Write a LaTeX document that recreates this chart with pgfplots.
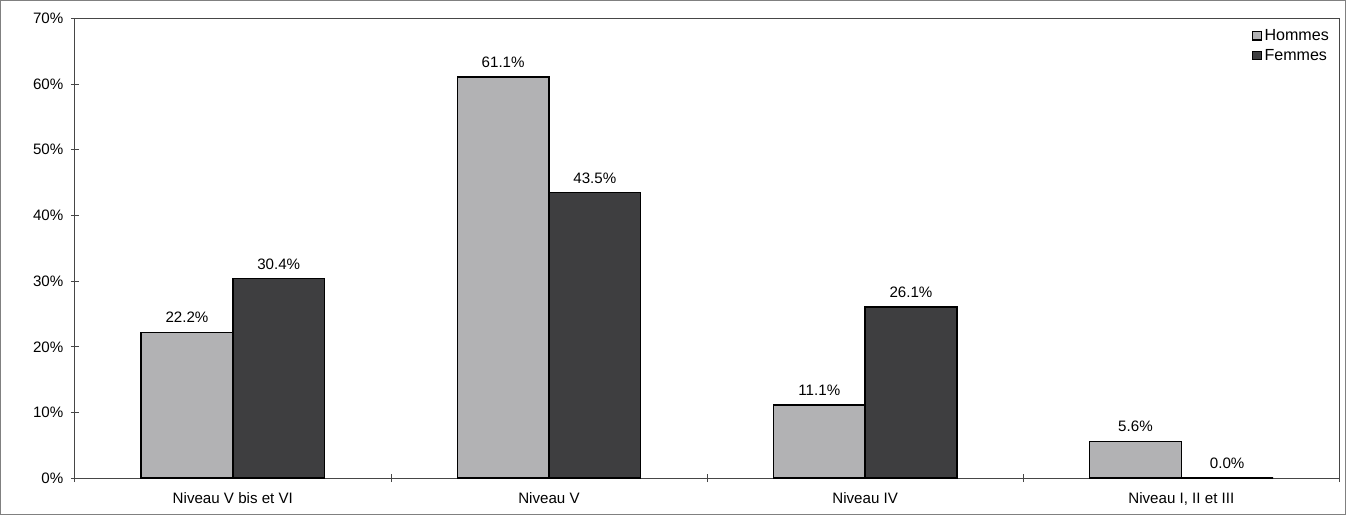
\documentclass[border=0pt]{standalone}
\usepackage{fontspec}
\setmainfont{Liberation Sans}
\usepackage{pgfplots}
\pgfplotsset{compat=1.18}

\definecolor{hommes}{RGB}{178,178,180}
\definecolor{femmes}{RGB}{62,62,64}
\definecolor{axisgray}{RGB}{70,70,70}

\begin{document}
\begin{tikzpicture}
\begin{axis}[
  scale only axis,
  width=945pt, height=343.5pt,
  ybar=0pt, bar width=0.29,
  xmin=-0.5, xmax=3.5,
  ymin=0, ymax=70,
  xtick={0,1,2,3},
  xticklabels={Niveau V bis et VI, Niveau V, Niveau IV, {Niveau I, II et III}},
  minor xtick={-0.5,0.5,1.5,2.5,3.5},
  major x tick style={draw=none},
  ytick={0,10,...,70},
  yticklabel={\pgfmathprintnumber{\tick}\%},
  tick align=center,
  major tick length=6pt, minor tick length=6pt,
  tick style={axisgray, line width=0.6pt},
  axis line style={axisgray, line width=0.8pt},
  axis x line*=bottom, axis y line*=left,
  /pgf/number format/assume math mode=true,
  font=\fontsize{11.3}{13}\selectfont,
  yticklabel style={xshift=-2pt},
  xticklabel style={yshift=-4pt},
  nodes near coords={\pgfmathprintnumber[fixed, fixed zerofill, precision=1]{\pgfplotspointmeta}\%},
  every node near coord/.append style={font=\fontsize{11.3}{13}\selectfont, yshift=3pt},
  legend style={at={(0.995,0.985)}, anchor=north east, draw=none, fill=none,
    font=\fontsize{12}{14}\selectfont, row sep=1pt, inner sep=1pt},
  legend cell align=left,
  legend image code/.code={\draw[#1, draw=black, line width=0.9pt] (0cm,-0.1cm) rectangle (0.22cm,0.12cm);},
  clip=false,
]
\addplot[fill=hommes, draw=black, line width=1.2pt] coordinates {(0,22.2) (1,61.1) (2,11.1) (3,5.6)};
\addplot[fill=femmes, draw=black, line width=1.2pt] coordinates {(0,30.4) (1,43.5) (2,26.1) (3,0.0)};
\legend{Hommes, Femmes}
\draw[axisgray, line width=0.6pt] (rel axis cs:0,1) -- (rel axis cs:1,1) -- (rel axis cs:1,0);
\draw[gray, line width=0.8pt] (rel axis cs:-0.0587,-0.0786) rectangle (rel axis cs:1.0048,1.039);
\end{axis}
\end{tikzpicture}
\end{document}
